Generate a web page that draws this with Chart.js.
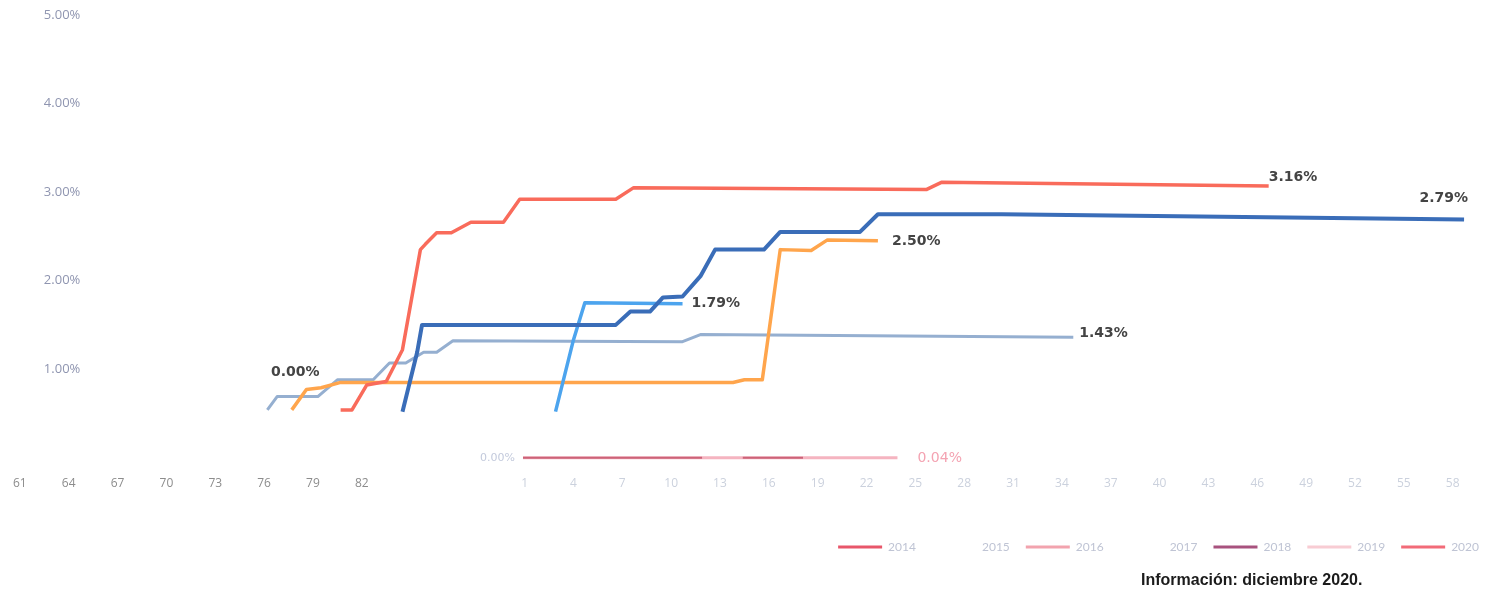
<!DOCTYPE html>
<html>
<head>
<meta charset="utf-8">
<script src="https://cdn.jsdelivr.net/npm/chart.js@4.4.1/dist/chart.umd.min.js"></script>
<style>
  html, body { margin: 0; padding: 0; background: #fff; }
  #wrap { position: relative; width: 1495px; height: 596px; }
</style>
</head>
<body>
<div id="wrap"><canvas id="curveChart"></canvas></div>
<script>
// x = month index; the second run of labels (1, 4, ...) continues the count from 92
const xTickValues = [61, 64, 67, 70, 73, 76, 79, 82,
  92, 95, 98, 101, 104, 107, 110, 113, 116, 119, 122, 125, 128, 131, 134, 137, 140, 143, 146, 149];
const xTickLabels = ['61', '64', '67', '70', '73', '76', '79', '82',
  '1', '4', '7', '10', '13', '16', '19', '22', '25', '28', '31', '34', '37', '40', '43', '46', '49', '52', '55', '58'];
const yTickValues = [1, 2, 3, 4, 5];

const greyX = [76.2, 76.8, 79.3, 80.5, 82.7, 83.7, 84.7, 85.8, 86.6, 87.6, 101.7, 102.8, 125.7];
const greyY = [0.54, 0.69, 0.69, 0.88, 0.88, 1.07, 1.07, 1.19, 1.19, 1.32, 1.31, 1.39, 1.36];

const orangeX = [77.7, 78.6, 79.5, 80.7, 104.8, 105.5, 106.6, 107.7, 109.6, 110.6, 113.7];
const orangeY = [0.54, 0.77, 0.79, 0.85, 0.85, 0.88, 0.88, 2.35, 2.34, 2.46, 2.45];

const redX = [80.7, 81.4, 82.3, 83.5, 84.5, 85.6, 85.9, 86.6, 87.5, 88.7, 90.7, 91.7, 97.6, 98.7, 116.7, 117.6, 137.7];
const redY = [0.54, 0.54, 0.82, 0.86, 1.22, 2.35, 2.41, 2.54, 2.54, 2.66, 2.66, 2.92, 2.92, 3.05, 3.03, 3.11, 3.07];

const darkBlueX = [84.5, 85.4, 85.7, 97.6, 98.5, 99.7, 100.5, 101.7, 102.8, 103.7, 106.7, 107.7, 112.6, 113.7, 121.3, 149.7];
const darkBlueY = [0.52, 1.19, 1.50, 1.50, 1.65, 1.65, 1.81, 1.82, 2.05, 2.35, 2.35, 2.55, 2.55, 2.75, 2.75, 2.69];

const lightBlueX = [93.9, 95.0, 95.7, 101.7];
const lightBlueY = [0.52, 1.33, 1.75, 1.74];

const pinkX = [91.9, 114.9];
const pinkY = [0, 0];
const darkPinkX = [91.9, 102.9, 104.0, 105.4, 109.1];
const darkPinkY = [0, 0, null, 0, 0];

const endLabelTexts = ['3.16%', '2.79%', '2.50%', '1.79%', '1.43%', '0.04%', '0.00%', '0.00%'];

const legendYears = ['2014', '2015', '2016', '2017', '2018', '2019', '2020'];
const legendColors = ['#e8566a', 'rgba(0,0,0,0)', '#f2a3ae', 'rgba(0,0,0,0)', '#a8527e', '#f8ccd3', '#f26b78'];

const captionText = 'Información: diciembre 2020.';

const toPoints = (xs, ys) => xs.map((x, i) => ({ x: x, y: ys[i] }));

const lineSet = (label, xs, ys, color, width) => ({
  label: label,
  data: toPoints(xs, ys),
  borderColor: color,
  backgroundColor: color,
  borderWidth: width,
  pointRadius: 0,
  tension: 0,
  spanGaps: false,
  borderJoinStyle: 'round',
  borderCapStyle: 'butt'
});

// text labels next to the lines: [dataset, which point, dx, dy, align, color, font]
const labelSpots = [
  [0, 'end', 0, -9, 'left', '#444', 'bold 14px "DejaVu Sans"'],
  [1, 'end', 4, -21, 'right', '#444', 'bold 14px "DejaVu Sans"'],
  [3, 'end', 14, 1, 'left', '#444', 'bold 14px "DejaVu Sans"'],
  [2, 'end', 9, 0, 'left', '#444', 'bold 14px "DejaVu Sans"'],
  [4, 'end', 6, -4, 'left', '#444', 'bold 14px "DejaVu Sans"'],
  [6, 'end', 20, 1, 'left', '#f4a3b2', '14px "DejaVu Sans"'],
  [4, 'start', 28, -38, 'center', '#444', 'bold 14px "DejaVu Sans"'],
  [6, 'start', -8, 0, 'right', '#c3cadc', '11px "DejaVu Sans"']
];

const lineLabels = {
  id: 'lineLabels',
  afterDatasetsDraw(chart) {
    const ctx = chart.ctx;
    ctx.save();
    ctx.textBaseline = 'middle';
    labelSpots.forEach((s, i) => {
      const pts = chart.data.datasets[s[0]].data;
      const p = s[1] === 'end' ? pts[pts.length - 1] : pts[0];
      const x = chart.scales.x.getPixelForValue(p.x) + s[2];
      const y = chart.scales.y.getPixelForValue(p.y) + s[3];
      ctx.textAlign = s[4];
      ctx.fillStyle = s[5];
      ctx.font = s[6];
      ctx.fillText(endLabelTexts[i], x, y);
    });
    ctx.restore();
  }
};

const caption = {
  id: 'caption',
  afterDraw(chart) {
    const ctx = chart.ctx;
    ctx.save();
    ctx.font = 'bold 16px "Liberation Sans"';
    ctx.fillStyle = '#1b1b1b';
    ctx.textAlign = 'left';
    ctx.textBaseline = 'middle';
    ctx.fillText(captionText, 1141, 581);
    ctx.restore();
  }
};

new Chart(document.getElementById('curveChart'), {
  type: 'line',
  data: {
    datasets: [
      lineSet('2020', redX, redY, '#f96b5b', 3.5),
      lineSet('2018', darkBlueX, darkBlueY, '#3a6db8', 4),
      lineSet('2017', lightBlueX, lightBlueY, '#4ca4ee', 3.5),
      lineSet('2016', orangeX, orangeY, '#ffa54c', 3.5),
      lineSet('2015', greyX, greyY, '#95afd0', 3),
      lineSet('2019b', darkPinkX, darkPinkY, '#cc6378', 2),
      lineSet('2019', pinkX, pinkY, '#f5b4c0', 3)
    ]
  },
  options: {
    responsive: true,
    maintainAspectRatio: false,
    animation: false,
    layout: { padding: { left: 15, right: 0, top: 15, bottom: 33 } },
    plugins: {
      tooltip: { enabled: false },
      legend: {
        position: 'bottom',
        align: 'end',
        labels: {
          boxWidth: 44,
          boxHeight: 3,
          padding: 16,
          font: { family: 'Lato', size: 12 },
          generateLabels: () => legendYears.map((year, i) => ({
            text: year,
            fillStyle: legendColors[i],
            strokeStyle: legendColors[i],
            fontColor: '#bfc4d4',
            lineWidth: 0,
            hidden: false,
            datasetIndex: i
          }))
        }
      }
    },
    scales: {
      x: {
        type: 'linear',
        min: 61,
        max: 151.6,
        grid: { display: false, drawTicks: false },
        border: { display: false },
        afterBuildTicks: (axis) => { axis.ticks = xTickValues.map(v => ({ value: v })); },
        afterFit: (axis) => { axis.height = 62; },
        ticks: {
          autoSkip: false,
          maxRotation: 0,
          padding: 13,
          font: { family: 'Open Sans', size: 12 },
          color: (c) => c.index < 8 ? '#8c8c8c' : '#cbd1dd',
          callback: (v, i) => xTickLabels[i]
        }
      },
      y: {
        min: -0.06,
        max: 5,
        grid: { display: false, drawTicks: false },
        border: { display: false },
        afterBuildTicks: (axis) => { axis.ticks = yTickValues.map(v => ({ value: v })); },
        afterFit: (axis) => { axis.width = 0; axis.paddingTop = 0; axis.paddingBottom = 0; },
        ticks: {
          mirror: true,
          padding: 24,
          font: { family: 'Open Sans', size: 13 },
          color: '#8f95b0',
          callback: (v) => v.toFixed(2) + '%'
        }
      }
    }
  },
  plugins: [lineLabels, caption]
});
</script>
</body>
</html>
